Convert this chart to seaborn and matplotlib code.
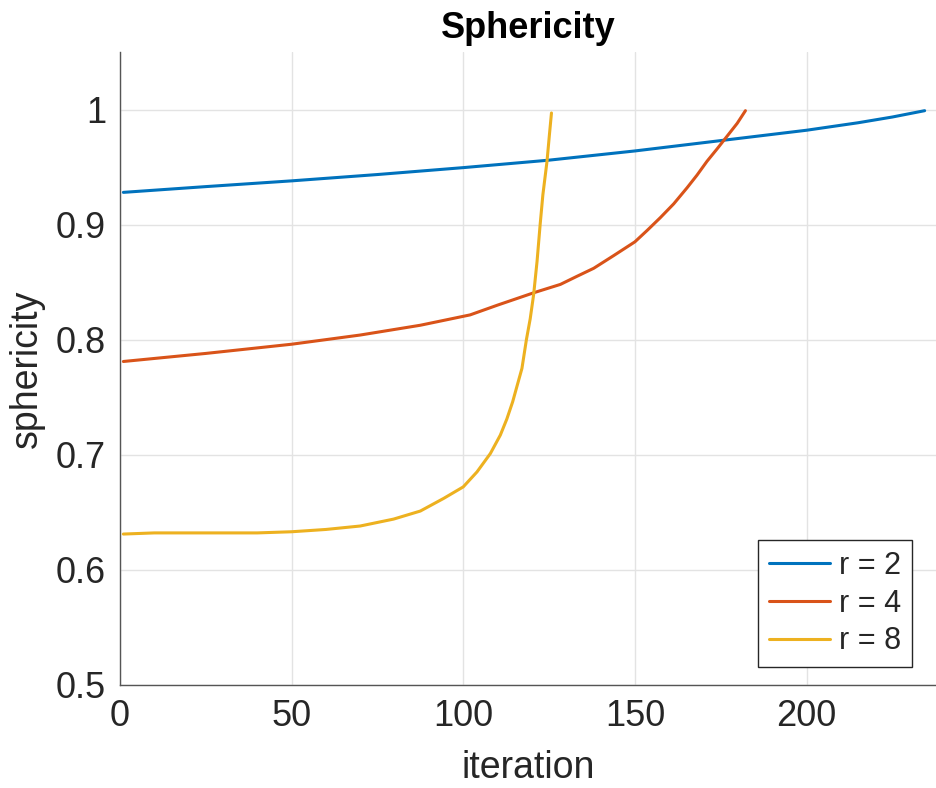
import numpy as np
import pandas as pd
import matplotlib
matplotlib.use("Agg")  # pas de display
import matplotlib.pyplot as plt
import seaborn as sns

# valeurs (iteration, sphericity)
R2_ITER = [1, 25, 50, 75, 100, 125, 150, 175, 200, 215, 225, 234.4]
R2_SPH = [0.928, 0.933, 0.938, 0.9435, 0.9495, 0.956, 0.964, 0.973, 0.982, 0.9885, 0.9935, 0.999]

R4_ITER = [1, 25, 50, 70, 87.5, 102, 110, 120.8, 128.3, 133.1, 138, 143.8, 150, 153.6, 157.4,
           161.3, 165.2, 168.1, 171, 174, 176.9, 179.8, 182.2]
R4_SPH = [0.781, 0.788, 0.796, 0.804, 0.8125, 0.8215, 0.830, 0.841, 0.848, 0.855, 0.862, 0.873,
          0.885, 0.895, 0.906, 0.918, 0.932, 0.943, 0.955, 0.966, 0.977, 0.988, 0.999]

R8_ITER = [1, 10, 21, 30, 40, 50, 60, 70, 79.7, 87.5, 94.3, 100, 104, 107.9, 110.8, 112.7, 114.4,
           115.7, 117.1, 118.4, 119.5, 120.5, 121.5, 122.4, 123.2, 124.4, 125.1, 125.7]
R8_SPH = [0.631, 0.632, 0.632, 0.632, 0.632, 0.633, 0.635, 0.638, 0.644, 0.651, 0.662, 0.672,
          0.685, 0.701, 0.717, 0.731, 0.746, 0.760, 0.775, 0.800, 0.818, 0.839, 0.868, 0.900,
          0.926, 0.955, 0.978, 0.997]

LABELS = ["r = 2", "r = 4", "r = 8"]
COLORS = ["#0072BD", "#D95319", "#EDB120"]
X_TICKS = [0, 50, 100, 150, 200]
Y_TICKS = [0.5, 0.6, 0.7, 0.8, 0.9, 1.0]
Y_TICKLABELS = ["0.5", "0.6", "0.7", "0.8", "0.9", "1"]

sns.set_theme(style="whitegrid")
plt.rcParams["font.family"] = ["Liberation Sans", "DejaVu Sans"]

df = pd.concat([
    pd.DataFrame({"iteration": it, "sphericity": sp, "run": lab})
    for it, sp, lab in zip([R2_ITER, R4_ITER, R8_ITER], [R2_SPH, R4_SPH, R8_SPH], LABELS)
])

fig, ax = plt.subplots(figsize=(9.37, 7.88), dpi=100)
fig.subplots_adjust(left=0.128, right=1.0, bottom=0.131, top=0.934)

sns.lineplot(data=df, x="iteration", y="sphericity", hue="run", hue_order=LABELS,
             palette=COLORS, linewidth=2.2, estimator=None, sort=False, ax=ax)

ax.set_xlim(0, 238)
ax.set_ylim(0.5, 1.05)
ax.set_xticks(X_TICKS)
ax.set_yticks(Y_TICKS)
ax.set_yticklabels(Y_TICKLABELS)

ax.grid(True, color="#e3e3e3", linewidth=1)
for side in ["top", "right"]:
    ax.spines[side].set_visible(False)
for side in ["left", "bottom"]:
    ax.spines[side].set_color("#555555")
    ax.spines[side].set_linewidth(1)
ax.tick_params(direction="in", length=6, width=1, color="#262626",
               labelcolor="#262626", labelsize=26, pad=10)

ax.set_title("Sphericity", fontsize=26, fontweight="bold", color="black", pad=10)
ax.set_xlabel("iteration", fontsize=27, color="#262626", labelpad=12)
ax.set_ylabel("sphericity", fontsize=27, color="#262626", labelpad=8)

ax.legend(loc="lower right", bbox_to_anchor=(0.969, 0.028), borderaxespad=0,
          frameon=True, fancybox=False, edgecolor="#262626", framealpha=1,
          fontsize=22, handlelength=2.0, borderpad=0.35, labelspacing=0.25,
          handletextpad=0.3)

plt.savefig("out.png", dpi=100)
plt.close()
